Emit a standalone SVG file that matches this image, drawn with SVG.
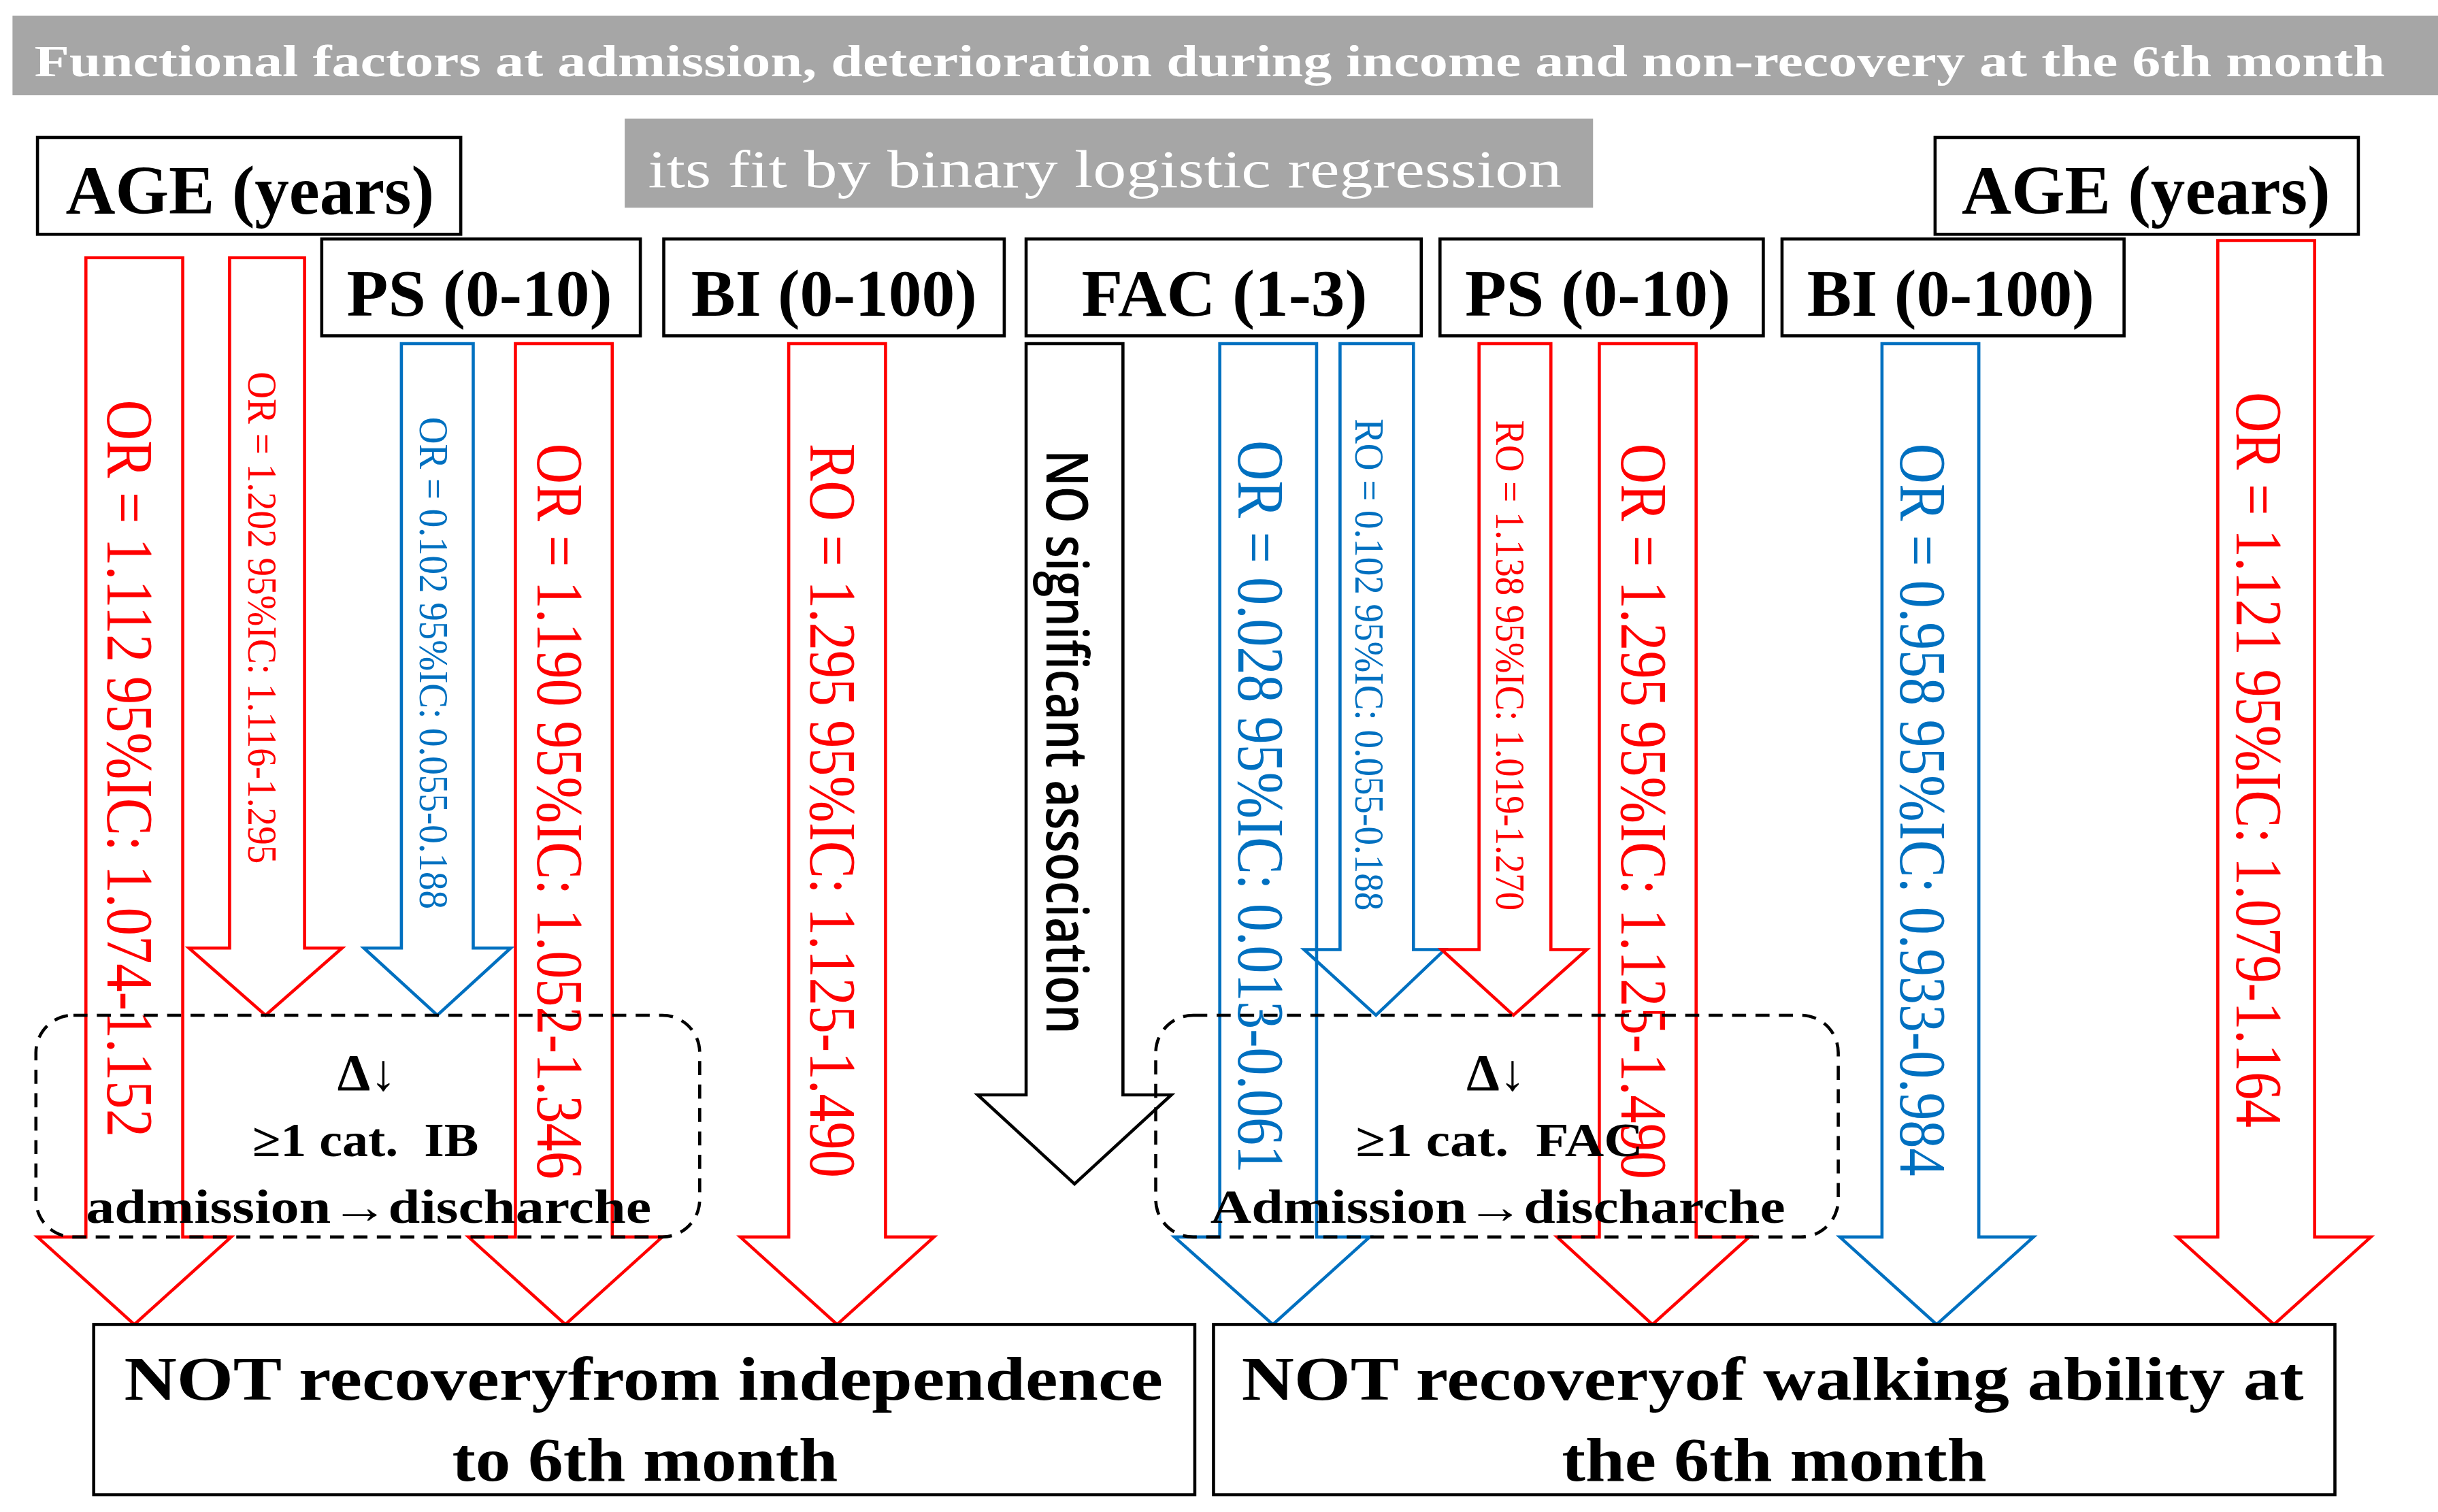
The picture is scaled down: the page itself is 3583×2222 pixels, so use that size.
<svg xmlns="http://www.w3.org/2000/svg" width="3583" height="2222" viewBox="0 0 3583 2222">
<style>
.bg{fill:#ffffff}
.gray{fill:#a6a6a6}
.box{fill:#ffffff;stroke:#000000;stroke-width:2}
.dash{fill:none;stroke:#000000;stroke-width:2;stroke-dasharray:9 6}
.ar{fill:none;stroke-width:2;stroke-linejoin:miter}
.red{stroke:#ff0000}
.blue{stroke:#0070c0}
.blk{stroke:#000000}
.hd{font-family:"Liberation Serif",serif;font-weight:bold;fill:#ffffff}
.sub{font-family:"Liberation Serif",serif;fill:#ffffff}
.lbl{font-family:"Liberation Serif",serif;font-weight:bold;fill:#000000;text-anchor:middle}
.vt{font-family:"Liberation Serif",serif}
.vr{fill:#ff0000}
.vb{fill:#0070c0}
.ns{font-family:"Open Sans","Liberation Sans",sans-serif;font-weight:600;fill:#000000}
</style>
<rect class="bg" x="0" y="0" width="3583" height="2222"/>
<g transform="scale(2.29532)">
  <g id="title">
    <rect class="gray" x="8" y="10" width="1553" height="51"/>
    <text class="hd" x="22" y="49" font-size="29" textLength="1505" lengthAdjust="spacingAndGlyphs">Functional factors at admission, deterioration during income and non-recovery at the 6th month</text>
  </g>
  <g id="subtitle">
    <rect class="gray" x="400" y="76" width="620" height="57"/>
    <text class="sub" x="415" y="120" font-size="34" textLength="585" lengthAdjust="spacingAndGlyphs">its fit by binary logistic regression</text>
  </g>

  <g id="connectors">
    <polygon class="ar red" points="55,165 117,165 117,792 148,792 86,848 24,792 55,792"/>
    <polygon class="ar red" points="147,165 195,165 195,607 219,607 170,650 121,607 147,607"/>
    <polygon class="ar blue" points="257,220 303,220 303,607 327,607 280,650 233,607 257,607"/>
    <polygon class="ar red" points="330,220 392,220 392,792 424,792 362,848 300,792 330,792"/>
    <polygon class="ar red" points="505,220 567,220 567,792 598,792 536,848 474,792 505,792"/>
    <polygon class="ar blk" points="657,220 719,220 719,701 750,701 688,758 626,701 657,701"/>
    <polygon class="ar blue" points="781,220 843,220 843,792 877,792 815,848 752,792 781,792"/>
    <polygon class="ar blue" points="858,220 905,220 905,608 925,608 881,650 835,608 858,608"/>
    <polygon class="ar red" points="947,220 993,220 993,608 1016,608 969,650 923,608 947,608"/>
    <polygon class="ar red" points="1024,220 1086,220 1086,792 1120,792 1058,848 997,792 1024,792"/>
    <polygon class="ar blue" points="1205,220 1267,220 1267,792 1302,792 1240,848 1178,792 1205,792"/>
    <polygon class="ar red" points="1420,154 1482,154 1482,792 1518,792 1456,848 1394,792 1420,792"/>

    <text class="vt vr" transform="translate(69,256) rotate(90)" font-size="42" textLength="472" lengthAdjust="spacingAndGlyphs">OR = 1.112 95%IC: 1.074-1.152</text>
    <text class="vt vr" transform="translate(159,238) rotate(90)" font-size="27" textLength="315" lengthAdjust="spacingAndGlyphs">OR = 1.202 95%IC: 1.116-1.295</text>
    <text class="vt vb" transform="translate(269,267) rotate(90)" font-size="27" textLength="315" lengthAdjust="spacingAndGlyphs">OR = 0.102 95%IC: 0.055-0.188</text>
    <text class="vt vr" transform="translate(344,284) rotate(90)" font-size="42" textLength="471" lengthAdjust="spacingAndGlyphs">OR = 1.190 95%IC: 1.052-1.346</text>
    <text class="vt vr" transform="translate(519,284) rotate(90)" font-size="42" textLength="470" lengthAdjust="spacingAndGlyphs">RO = 1.295 95%IC: 1.125-1.490</text>
    <text class="ns" transform="translate(670,288) rotate(90)" font-size="37" textLength="374" lengthAdjust="spacingAndGlyphs">NO significant association</text>
    <text class="vt vb" transform="translate(793,282) rotate(90)" font-size="42" textLength="469" lengthAdjust="spacingAndGlyphs">OR = 0.028 95%IC: 0.013-0.061</text>
    <text class="vt vb" transform="translate(868,268) rotate(90)" font-size="27" textLength="315" lengthAdjust="spacingAndGlyphs">RO = 0.102 95%IC: 0.055-0.188</text>
    <text class="vt vr" transform="translate(958,269) rotate(90)" font-size="27" textLength="314" lengthAdjust="spacingAndGlyphs">RO = 1.138 95%IC: 1.019-1.270</text>
    <text class="vt vr" transform="translate(1038,284) rotate(90)" font-size="42" textLength="471" lengthAdjust="spacingAndGlyphs">OR = 1.295 95%IC: 1.125-1.490</text>
    <text class="vt vb" transform="translate(1217,284) rotate(90)" font-size="42" textLength="469" lengthAdjust="spacingAndGlyphs">OR = 0.958 95%IC: 0.933-0.984</text>
    <text class="vt vr" transform="translate(1432,251) rotate(90)" font-size="42" textLength="471" lengthAdjust="spacingAndGlyphs">OR = 1.121 95%IC: 1.079-1.164</text>
  </g>

  <g id="age-left">
    <rect class="box" x="24" y="88" width="271" height="62"/>
    <text class="lbl" x="160" y="137" font-size="44" textLength="236" lengthAdjust="spacingAndGlyphs">AGE (years)</text>
  </g>
  <g id="age-right">
    <rect class="box" x="1239" y="88" width="271" height="62"/>
    <text class="lbl" x="1374" y="137" font-size="44" textLength="236" lengthAdjust="spacingAndGlyphs">AGE (years)</text>
  </g>
  <g id="ps-left">
    <rect class="box" x="206" y="153" width="204" height="62"/>
    <text class="lbl" x="307" y="202" font-size="42" textLength="170" lengthAdjust="spacingAndGlyphs">PS (0-10)</text>
  </g>
  <g id="bi-left">
    <rect class="box" x="425" y="153" width="218" height="62"/>
    <text class="lbl" x="534" y="202" font-size="42" textLength="183" lengthAdjust="spacingAndGlyphs">BI (0-100)</text>
  </g>
  <g id="fac">
    <rect class="box" x="657" y="153" width="253" height="62"/>
    <text class="lbl" x="784" y="202" font-size="42" textLength="183" lengthAdjust="spacingAndGlyphs">FAC (1-3)</text>
  </g>
  <g id="ps-right">
    <rect class="box" x="922" y="153" width="207" height="62"/>
    <text class="lbl" x="1023" y="202" font-size="42" textLength="170" lengthAdjust="spacingAndGlyphs">PS (0-10)</text>
  </g>
  <g id="bi-right">
    <rect class="box" x="1141" y="153" width="219" height="62"/>
    <text class="lbl" x="1249" y="202" font-size="42" textLength="184" lengthAdjust="spacingAndGlyphs">BI (0-100)</text>
  </g>

  <g id="delta-ib">
    <rect class="dash" x="23" y="650" width="425" height="142" rx="24" ry="24"/>
    <text class="lbl" x="235" y="698" font-size="33" textLength="38" lengthAdjust="spacingAndGlyphs">Δ↓</text>
    <text class="lbl" x="234" y="740" font-size="30" textLength="145" lengthAdjust="spacingAndGlyphs" xml:space="preserve">≥1 cat.  IB</text>
    <text class="lbl" x="236" y="783" font-size="30" textLength="362" lengthAdjust="spacingAndGlyphs">admission→discharche</text>
  </g>
  <g id="delta-fac">
    <rect class="dash" x="740" y="650" width="437" height="142" rx="24" ry="24"/>
    <text class="lbl" x="958" y="698" font-size="33" textLength="38" lengthAdjust="spacingAndGlyphs">Δ↓</text>
    <text class="lbl" x="960" y="740" font-size="30" textLength="184" lengthAdjust="spacingAndGlyphs" xml:space="preserve">≥1 cat.  FAC</text>
    <text class="lbl" x="959" y="783" font-size="30" textLength="368" lengthAdjust="spacingAndGlyphs">Admission→discharche</text>
  </g>

  <g id="outcome-independence">
    <rect class="box" x="60" y="848" width="705" height="109"/>
    <text class="lbl" x="412" y="896" font-size="40" textLength="665" lengthAdjust="spacingAndGlyphs">NOT recoveryfrom independence</text>
    <text class="lbl" x="413" y="948" font-size="40" textLength="247" lengthAdjust="spacingAndGlyphs">to 6th month</text>
  </g>
  <g id="outcome-walking">
    <rect class="box" x="777" y="848" width="718" height="109"/>
    <text class="lbl" x="1135" y="896" font-size="40" textLength="680" lengthAdjust="spacingAndGlyphs">NOT recoveryof walking ability at</text>
    <text class="lbl" x="1136" y="948" font-size="40" textLength="272" lengthAdjust="spacingAndGlyphs">the 6th month</text>
  </g>
</g>
</svg>
